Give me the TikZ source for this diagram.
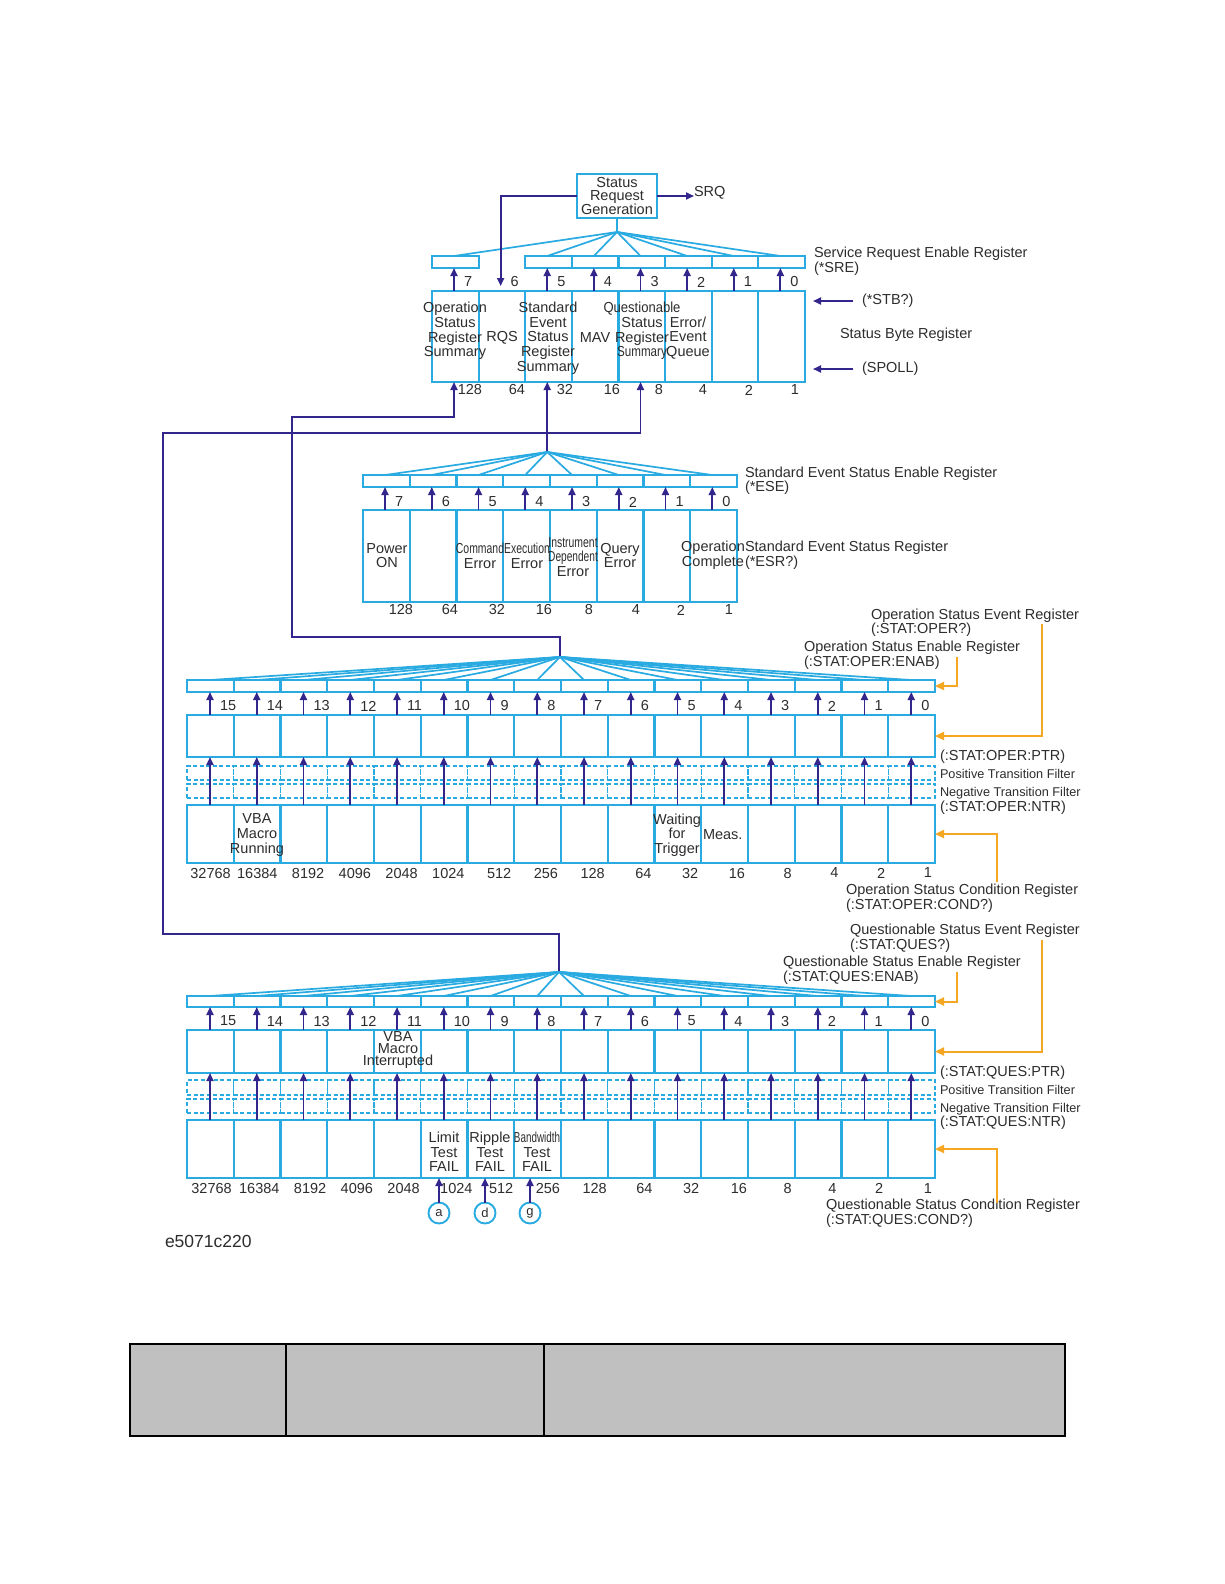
\documentclass[tikz,border=0pt]{standalone}
\usepackage{fontspec}
\setmainfont{Liberation Sans}
\usepackage{graphicx}
\usetikzlibrary{arrows.meta,calc}
\definecolor{cyn}{RGB}{41,171,226}
\definecolor{prp}{RGB}{50,38,140}
\definecolor{orn}{RGB}{245,166,35}
\definecolor{txt}{RGB}{45,45,45}
\definecolor{tblgray}{RGB}{192,192,192}
\newcommand{\nw}[2]{\scalebox{#1}[1]{#2}}
\begin{document}
\begin{tikzpicture}[x=1pt,y=-1pt,
  every node/.style={text=txt,inner sep=0pt,outer sep=0pt,font=\fontsize{14.5}{14.7}\selectfont},
  reg/.style={draw=cyn,line width=2.1pt,rectangle,anchor=north west},
  dreg/.style={draw=cyn,line width=1.4pt,dash pattern=on 4pt off 2.5pt,rectangle,anchor=north west},
  fanline/.style={draw=cyn,line width=1.7pt},
  parr/.style={draw=prp,line width=1.9pt,-{Triangle[length=8pt,width=7pt]}},
  oarr/.style={draw=orn,line width=2pt,-{Triangle[length=9pt,width=8pt]}},
  side/.style={anchor=west,align=left,font=\fontsize{14.5}{13.3}\selectfont},
  sidesm/.style={anchor=west,font=\fontsize{12.7}{13}\selectfont},
  wt/.style={anchor=east},
  bitno/.style={anchor=west},
  ctext/.style={align=center},
  circ/.style={draw=cyn,line width=1.9pt,circle,minimum size=21pt,font=\fontsize{13}{13}\selectfont},
  tcell/.style={draw=black,line width=1.4pt,fill=tblgray,rectangle,anchor=north west,minimum height=92pt}
]
\fill[white] (0,0) rectangle (1224,1584);
\useasboundingbox (0,0) rectangle (1224,1584);

% ================= Status byte =================
\node[reg,anchor=center,minimum width=80pt,minimum height=44pt,align=center,font=\fontsize{14.5}{13}\selectfont] (srg) at (617,196) {Status\\Request\\Generation};
\node[anchor=west] (srq) at (694,193) {SRQ};
\draw[parr] (srg.east) -- (srg.east -| srq.west);

\foreach \i in {0,2,3,4,5,6,7}
  \node[reg,minimum width=46.625pt,minimum height=12pt] (sre\i) at ({432+46.625*\i},256) {};
\foreach \i in {0,...,7}
  \node[reg,minimum width=46.625pt,minimum height=91pt] (sb\i) at ({432+46.625*\i},291) {};

\coordinate (sapex) at (617,232);
\draw[fanline] (srg.south) -- (sapex);
\foreach \i in {0,2,3,4,5,6,7} {
  \draw[fanline] (sapex) -- ($(sre\i.north west)+(22,0)$);
  \draw[parr] ($(sb\i.north west)+(22,0)$) -- ($(sre\i.south west)+(22,0)$);
}
\draw[parr] (srg.west) -| ($(sb1.north west)+(22,-5)$);
\foreach \i/\b in {0/7,1/6,2/5,3/4,4/3,5/2,6/1,7/0}
  \node[bitno] at ($(sb\i.north west)+(32,-9)$) {\b};
\foreach \x/\w in {482/128,525/64,573/32,620/16,663/8,707/4,753/2,799/1}
  \node[wt] at (\x,390) {\w};

\node[ctext] at (455,331) {Operation\\Status\\Register\\Summary};
\node at (502,338) {RQS};
\node[ctext] at (548,338) {Standard\\Event\\Status\\Register\\Summary};
\node at (595,338) {MAV};
\node[ctext] at (642,331) {\nw{0.9}{Questionable}\\Status\\Register\\\nw{0.8}{Summary}};
\node[ctext] at (688,338) {Error/\\Event\\Queue};

\node[side] (sreL) at (814,261) {Service Request Enable Register\\(*SRE)};
\node[anchor=west] (stbL) at (862,301) {(*STB?)};
\coordinate (stbT) at (813,301);
\draw[parr] ([xshift=-9pt]stbL.west) -- (stbT);
\node[anchor=west] (sbrL) at (840,335) {Status Byte Register};
\node[anchor=west] (spL) at (862,369) {(SPOLL)};
\coordinate (spT) at (813,369);
\draw[parr] ([xshift=-9pt]spL.west) -- (spT);

% connections below status byte
\coordinate (seapex) at ($(sb2.south west)+(22,70)$);
\draw[parr] (seapex) -- ($(sb2.south west)+(22,0)$);
\coordinate (oapex) at (560,657);
\draw[parr] (oapex) -- ++(0,-20) -| (292,417) -| ($(sb0.south west)+(22,0)$);
\coordinate (qapex) at (559,972);
\draw[parr] (qapex) -- ++(0,-38) -| (163,433) -| ($(sb4.south west)+(22,0)$);

% ================= Standard event =================
\foreach \i in {0,...,7} {
  \node[reg,minimum width=46.75pt,minimum height=12pt] (ese\i) at ({363+46.75*\i},475) {};
  \node[reg,minimum width=46.75pt,minimum height=92pt] (esr\i) at ({363+46.75*\i},510) {};
}
\foreach \i/\b in {0/7,1/6,2/5,3/4,4/3,5/2,6/1,7/0} {
  \draw[fanline] (seapex) -- ($(ese\i.north west)+(22,0)$);
  \draw[parr] ($(esr\i.north west)+(22,0)$) -- ($(ese\i.south west)+(22,0)$);
  \node[bitno] at ($(esr\i.north west)+(32,-8)$) {\b};
}
\foreach \x/\w in {413/128,458/64,505/32,552/16,593/8,640/4,685/2,733/1}
  \node[wt] at (\x,610) {\w};

\node[ctext] at (387,555.5) {Power\\ON};
\node[ctext] at (480,555.5) {\nw{0.72}{Command}\\Error};
\node[ctext] at (527,555.5) {\nw{0.72}{Execution}\\Error};
\node[ctext] at (573,557) {\nw{0.72}{Instrument}\\\nw{0.7}{Dependent}\\Error};
\node[ctext] at (620,555.5) {Query\\Error};
\node[ctext] at (713,555.5) {Operation\\Complete};

\node[side,font=\fontsize{14.5}{14}\selectfont] at (745,481) {Standard Event Status Enable Register\\(*ESE)};
\node[side,font=\fontsize{14.5}{14.7}\selectfont] at (745,555.5) {Standard Event Status Register\\(*ESR?)};

% ================= Operation status =================
\foreach \i in {0,...,15} {
  \node[reg,minimum width=46.75pt,minimum height=12pt] (oe\i) at ({187+46.75*\i},680) {};
  \node[reg,minimum width=46.75pt,minimum height=42pt] (ov\i) at ({187+46.75*\i},715) {};
  \node[dreg,minimum width=46.75pt,minimum height=14pt] (op\i) at ({187+46.75*\i},766) {};
  \node[dreg,minimum width=46.75pt,minimum height=14pt] (on\i) at ({187+46.75*\i},784) {};
  \node[reg,minimum width=46.75pt,minimum height=58pt] (oc\i) at ({187+46.75*\i},805) {};
}
\foreach \i/\b/\w in {0/15/32768,1/14/16384,2/13/8192,3/12/4096,4/11/2048,5/10/1024,6/9/512,7/8/256,8/7/128,9/6/64,10/5/32,11/4/16,12/3/8,13/2/4,14/1/2,15/0/1} {
  \draw[fanline] (oapex) -- ($(oe\i.north west)+(23,0)$);
  \draw[parr] ($(ov\i.north west)+(23,0)$) -- ($(oe\i.south west)+(23,0)$);
  \draw[parr] ($(oc\i.north west)+(23,0)$) -- ($(ov\i.south west)+(23,0)$);
  \node[bitno] at ($(ov\i.north west)+(33,-9)$) {\b};
  \node[wt] at ($(oc\i.south east)+(-3,10)$) {\w};
}
\node[ctext] at (257,835) {VBA\\Macro\\Running};
\node[ctext] at (677,835) {Waiting\\for\\Trigger};
\node[anchor=west] at (703,835) {Meas.};

\node[side] (oevL) at (871,622.5) {Operation Status Event Register\\(:STAT:OPER?)};
\coordinate (oevS) at (1042,624);
\draw[oarr] (oevS) |- (ov15.east);
\node[side] (oenL) at (804,655) {Operation Status Enable Register\\(:STAT:OPER:ENAB)};
\coordinate (oenS) at (957,657);
\draw[oarr] (oenS) |- (oe15.east);
\node[anchor=west] at (940,757) {(:STAT:OPER:PTR)};
\node[sidesm] at (940,774) {Positive Transition Filter};
\node[sidesm] at (940,793) {Negative Transition Filter};
\node[anchor=west] at (940,808) {(:STAT:OPER:NTR)};
\node[side] (ocnL) at (846,898) {Operation Status Condition Register\\(:STAT:OPER:COND?)};
\coordinate (ocnS) at (997,882);
\draw[oarr] (ocnS) |- (oc15.east);

% ================= Questionable status =================
\foreach \i in {0,...,15} {
  \node[reg,minimum width=46.75pt,minimum height=11pt] (qe\i) at ({187+46.75*\i},996) {};
  \node[reg,minimum width=46.75pt,minimum height=43pt] (qv\i) at ({187+46.75*\i},1030) {};
  \node[dreg,minimum width=46.75pt,minimum height=15pt] (qp\i) at ({187+46.75*\i},1080) {};
  \node[dreg,minimum width=46.75pt,minimum height=14pt] (qn\i) at ({187+46.75*\i},1099) {};
  \node[reg,minimum width=46.75pt,minimum height=58pt] (qc\i) at ({187+46.75*\i},1120) {};
}
\foreach \i/\b/\w/\dx in {0/15/32768/-2,1/14/16384/-1,2/13/8192/-1,3/12/4096/-1,4/11/2048/-1,5/10/1024/5,6/9/512/-1,7/8/256/-1,8/7/128/-1,9/6/64/-2,10/5/32/-2,11/4/16/-1,12/3/8/-3,13/2/4/-5,14/1/2/-5,15/0/1/-3} {
  \draw[fanline] (qapex) -- ($(qe\i.north west)+(23,0)$);
  \draw[parr] ($(qv\i.north west)+(23,0)$) -- ($(qe\i.south west)+(23,0)$);
  \draw[parr] ($(qc\i.north west)+(23,0)$) -- ($(qv\i.south west)+(23,0)$);
  \node[bitno] at ($(qv\i.north west)+(33,-9)$) {\b};
  \node[wt] at ($(qc\i.south east)+(\dx,10)$) {\w};
}
\node[ctext,font=\fontsize{14.5}{12}\selectfont] at (398,1050) {VBA\\Macro\\Interrupted};
\node[ctext] at (444,1152) {Limit\\Test\\FAIL};
\node[ctext] at (490,1152) {Ripple\\Test\\FAIL};
\node[ctext] at (537,1152) {\nw{0.68}{Bandwidth}\\Test\\FAIL};

\node[circ] (ca) at (439,1213) {a};
\node[circ] (cd) at (485,1213) {d};
\node[circ] (cg) at (530,1213) {g};
\draw[parr] (ca) -- (ca |- qc5.south);
\draw[parr] (cd) -- (cd |- qc6.south);
\draw[parr] (cg) -- (cg |- qc7.south);

\node[side] (qevL) at (850,938) {Questionable Status Event Register\\(:STAT:QUES?)};
\coordinate (qevS) at (1042,940);
\draw[oarr] (qevS) |- (qv15.east);
\node[side] (qenL) at (783,970) {Questionable Status Enable Register\\(:STAT:QUES:ENAB)};
\coordinate (qenS) at (957,972);
\draw[oarr] (qenS) |- (qe15.east);
\node[anchor=west] at (940,1073) {(:STAT:QUES:PTR)};
\node[sidesm] at (940,1090) {Positive Transition Filter};
\node[sidesm] at (940,1109) {Negative Transition Filter};
\node[anchor=west] at (940,1123) {(:STAT:QUES:NTR)};
\node[side] (qcnL) at (826,1213) {Questionable Status Condition Register\\(:STAT:QUES:COND?)};
\coordinate (qcnS) at (997,1203);
\draw[oarr] (qcnS) |- (qc15.east);

% ================= footer =================
\node[anchor=west,font=\fontsize{17.5}{18}\selectfont] (fig) at (165,1241) {e5071c220};
\node[tcell,minimum width=156pt] (t1) at (130,1344) {};
\node[tcell,minimum width=258pt] (t2) at (286,1344) {};
\node[tcell,minimum width=521pt] (t3) at (544,1344) {};
\end{tikzpicture}
\end{document}
